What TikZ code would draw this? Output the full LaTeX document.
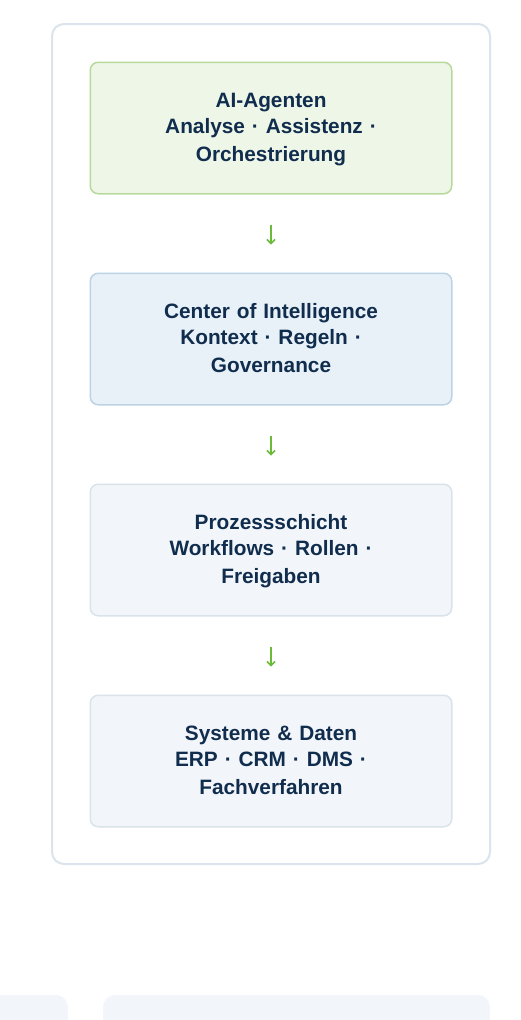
\documentclass[tikz,border=0pt]{standalone}
\usepackage{fontspec}
\setmainfont{Liberation Sans}
\usetikzlibrary{positioning,arrows.meta}

\definecolor{ink}{RGB}{17,45,78}
\definecolor{flowgreen}{RGB}{108,186,58}
\definecolor{frameline}{RGB}{219,227,236}
\definecolor{agentfill}{RGB}{238,246,232}
\definecolor{agentline}{RGB}{183,218,156}
\definecolor{coifill}{RGB}{232,241,248}
\definecolor{coiline}{RGB}{188,211,229}
\definecolor{plainfill}{RGB}{242,246,250}
\definecolor{plainline}{RGB}{218,226,234}

\tikzset{
  layer/.style={draw, line width=1.5pt, rounded corners=8pt,
    minimum width=361.5pt, minimum height=131.5pt, text width=340pt,
    align=center, inner sep=0pt, text=ink,
    font=\fontsize{20.8}{25.5}\selectfont\bfseries,
    execute at begin node=\rule{0pt}{18pt},
    execute at end node=\rule[-4.6pt]{0pt}{4.6pt}},
  flow/.style={draw=flowgreen, line width=1.5pt,
    -{Straight Barb[length=4pt,width=8pt]}}
}

\begin{document}
\begin{tikzpicture}[x=1pt,y=1pt]
\useasboundingbox (0,0) rectangle (520,-1020);
% outer frame
\draw [frameline, line width=2pt, rounded corners=12pt] (52,-24) rectangle (490,-864);
% the four layers
\node [layer, fill=agentfill, draw=agentline] (agents) at (271,-128)
  {AI-Agenten\\ Analyse · Assistenz ·\\[3pt] Orchestrierung};
\node [layer, fill=coifill, draw=coiline, below=78pt of agents] (coi)
  {Center of Intelligence\\ Kontext · Regeln ·\\[3pt] Governance};
\node [layer, fill=plainfill, draw=plainline, below=78pt of coi] (process)
  {Prozessschicht\\ Workflows · Rollen ·\\[3pt] Freigaben};
\node [layer, fill=plainfill, draw=plainline, below=78pt of process] (systems)
  {Systeme \& Daten\\ ERP · CRM · DMS ·\\[3pt] Fachverfahren};
% arrows between layers
\draw [flow] ([yshift=-30pt]agents.south) -- ([yshift=28pt]coi.north);
\draw [flow] ([yshift=-30pt]coi.south) -- ([yshift=28pt]process.north);
\draw [flow] ([yshift=-30pt]process.south) -- ([yshift=28pt]systems.north);
% cards cut off at the bottom
\begin{scope}
  \clip (0,0) rectangle (520,-1020);
  \fill [plainfill, rounded corners=12pt] (-30,-1040) rectangle (68,-995);
  \fill [plainfill, rounded corners=12pt] (103,-1040) rectangle (490,-995);
\end{scope}
\end{tikzpicture}
\end{document}
